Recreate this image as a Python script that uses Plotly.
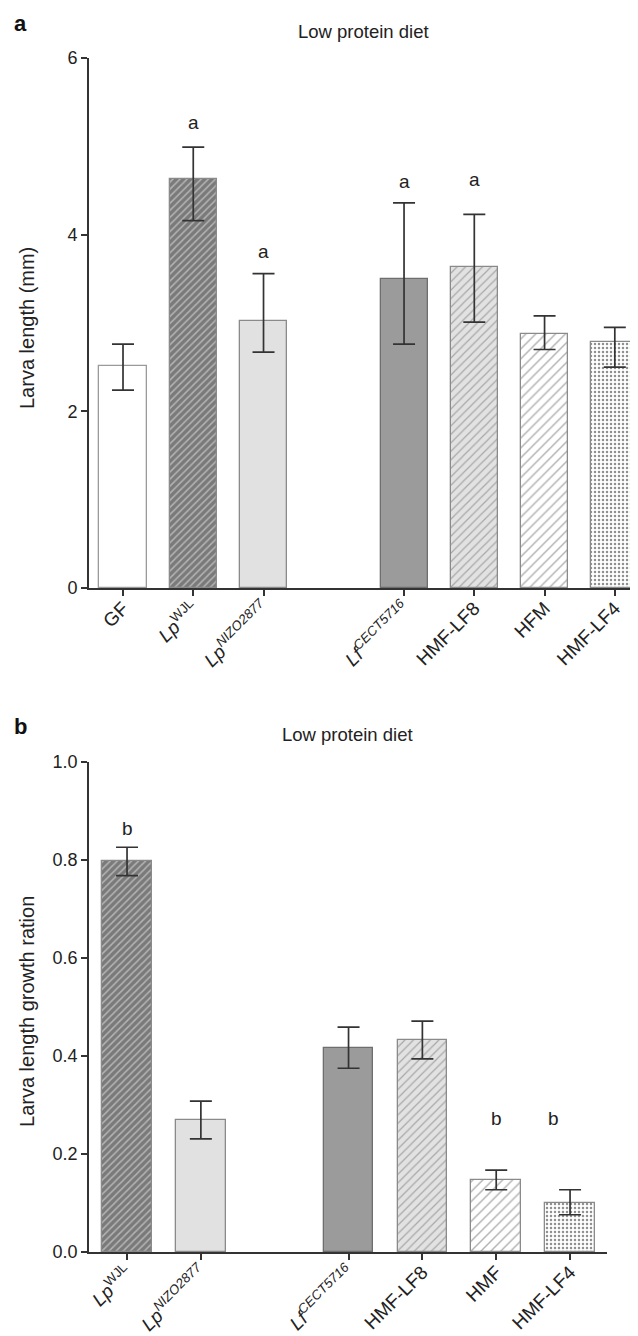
import plotly.graph_objects as go

# ---------------- data ----------------
# Panel a: Larva length (mm), low protein diet
a_names = ["GF", "LpWJL", "LpNIZO2877", "LfCECT5716", "HMF-LF8", "HFM", "HMF-LF4"]
a_labels = ["GF", "<i>Lp</i><sup>WJL</sup>", "<i>Lp</i><sup><i>NIZO2877</i></sup>",
            "<i>Lf</i><sup><i>CECT5716</i></sup>", "HMF-LF8", "HFM", "HMF-LF4"]
a_group = [0, 0, 0, 1, 1, 1, 1]
a_mean = [2.51, 4.63, 3.02, 3.50, 3.63, 2.88, 2.78]
a_upper = [2.76, 4.99, 3.56, 4.36, 4.23, 3.08, 2.95]
a_lower = [2.24, 4.16, 2.67, 2.76, 3.01, 2.70, 2.50]
a_letters = ["", "a", "a", "a", "a", "", ""]
a_letter_y = [None, 5.27, 3.81, 4.60, 4.62, None, None]

# Panel b: Larva length growth ration, low protein diet
b_names = ["LpWJL", "LpNIZO2877", "LfCECT5716", "HMF-LF8", "HFM", "HMF-LF4"]
b_labels = ["<i>Lp</i><sup>WJL</sup>", "<i>Lp</i><sup><i>NIZO2877</i></sup>",
            "<i>Lf</i><sup><i>CECT5716</i></sup>", "HMF-LF8", "HMF", "HMF-LF4"]
b_group = [0, 0, 1, 1, 1, 1]
b_mean = [0.797, 0.269, 0.416, 0.433, 0.147, 0.100]
b_upper = [0.826, 0.308, 0.459, 0.471, 0.167, 0.127]
b_lower = [0.768, 0.231, 0.375, 0.394, 0.127, 0.076]
b_letters = ["b", "", "", "", "b", "b"]
b_letter_y = [0.865, None, None, None, 0.273, 0.273]

a_yticks = [0, 2, 4, 6]
b_yticks = [0.0, 0.2, 0.4, 0.6, 0.8, 1.0]

# ---------------- styles ----------------
STYLE = {
    "GF":         dict(bg="#ffffff", fg="#ffffff", shape="", size=8, sol=0.3, line="#9a9a9a"),
    "LpWJL":      dict(bg="#7a7a7a", fg="#b4b4b4", shape="/", size=5, sol=0.3, line="#8a8a8a"),
    "LpNIZO2877": dict(bg="#e1e1e1", fg="#e1e1e1", shape="", size=8, sol=0.3, line="#8a8a8a"),
    "LfCECT5716": dict(bg="#9b9b9b", fg="#9b9b9b", shape="", size=8, sol=0.3, line="#6e6e6e"),
    "HMF-LF8":    dict(bg="#e2e2e2", fg="#a8a8a8", shape="/", size=6, sol=0.2, line="#8a8a8a"),
    "HFM":        dict(bg="#ffffff", fg="#b0b0b0", shape="/", size=7, sol=0.2, line="#8a8a8a"),
    "HMF-LF4":    dict(bg="#ffffff", fg="#909090", shape=".", size=4, sol=0.3, line="#8a8a8a"),
}
FONT = "Liberation Sans, Arial, Helvetica, sans-serif"
AXC = "#333333"
BAR_W = 0.67


def positions(groups):
    return [i + g for i, g in enumerate(groups)]


def add_bars(fig, names, means, upper, lower, groups, xa, ya):
    xs = positions(groups)
    for n, x, m, u, l in zip(names, xs, means, upper, lower):
        s = STYLE[n]
        pattern = dict(shape=s["shape"], bgcolor=s["bg"], fgcolor=s["fg"],
                       size=s["size"], solidity=s["sol"], fillmode="replace")
        fig.add_trace(go.Bar(
            x=[x], y=[m], width=BAR_W, xaxis=xa, yaxis=ya,
            marker=dict(color=s["bg"], pattern=pattern,
                        line=dict(color=s["line"], width=1.3)),
            error_y=dict(type="data", symmetric=False, array=[u - m], arrayminus=[m - l],
                         color=AXC, thickness=1.7, width=11),
            showlegend=False, hoverinfo="skip"))
    return xs


fig = go.Figure()
xa_pos = add_bars(fig, a_names, a_mean, a_upper, a_lower, a_group, "x", "y")
xb_pos = add_bars(fig, b_names, b_mean, b_upper, b_lower, b_group, "x2", "y2")

annotations = []
for x, t, y in zip(xa_pos, a_letters, a_letter_y):
    if t:
        annotations.append(dict(x=x, y=y, xref="x", yref="y", text=t, showarrow=False,
                                font=dict(size=19, color="#222", family=FONT)))
b_shift = [0, 0, 0, 0, 0, -17]
for x, t, y, sh in zip(xb_pos, b_letters, b_letter_y, b_shift):
    if t:
        annotations.append(dict(x=x, y=y, xref="x2", yref="y2", text=t, showarrow=False,
                                xshift=sh, font=dict(size=19, color="#222", family=FONT)))

# titles, panel labels, axis titles
for xd, yd, lab, ytitle in [("x domain", "y domain", "a", "Larva length (mm)"),
                            ("x2 domain", "y2 domain", "b", "Larva length growth ration")]:
    annotations.append(dict(x=0.5, y=1, xref=xd, yref=yd, yshift=27, text="Low protein diet",
                            xanchor="center", yanchor="middle",
                            showarrow=False, font=dict(size=18.5, color="#222", family=FONT)))
    annotations.append(dict(x=0, y=1, xref="paper", yref=yd, xshift=-69, yshift=35, text="<b>%s</b>" % lab,
                            xanchor="center", yanchor="middle",
                            showarrow=False, font=dict(size=22, color="#111", family=FONT)))
    annotations.append(dict(x=0, y=0.5, xref="paper", yref=yd, xshift=-62, yshift=-5, text=ytitle,
                            textangle=-90, xanchor="center", yanchor="middle",
                            showarrow=False, font=dict(size=20, color="#222", family=FONT)))

common_x = dict(showline=True, linecolor=AXC, linewidth=1.6, ticks="outside", ticklen=6, tickwidth=1.6,
                tickcolor=AXC, showgrid=False, zeroline=False, tickangle=-45, ticklabelstandoff=-6,
                automargin=False, tickfont=dict(size=19, color="#222", family=FONT))
common_y = dict(showline=True, linecolor=AXC, linewidth=1.6, ticks="outside", ticklen=6, tickwidth=1.6,
                tickcolor=AXC, showgrid=False, zeroline=False, automargin=False,
                tickfont=dict(size=18, color="#222", family=FONT))

# the page body adds an 8px offset, so the figure is 8px smaller than the window
fig.update_layout(
    width=630, height=1328, autosize=False,
    margin=dict(l=81, r=0, t=50, b=84),
    paper_bgcolor="white", plot_bgcolor="white",
    bargap=0,
    xaxis=dict(domain=[0, 1], range=[-0.484, 7.33], anchor="y",
               tickvals=xa_pos, ticktext=a_labels, **common_x),
    yaxis=dict(domain=[0.5561, 1], range=[0, 6], anchor="x",
               tickvals=a_yticks, **common_y),
    xaxis2=dict(domain=[0, 0.9435], range=[-0.515, 6.50], anchor="y2",
                tickvals=xb_pos, ticktext=b_labels, **common_x),
    yaxis2=dict(domain=[0, 0.4104], range=[0, 1], anchor="x2",
                tickvals=b_yticks, tickformat=".1f", **common_y),
    annotations=annotations,
)

fig.write_html("out.html")
